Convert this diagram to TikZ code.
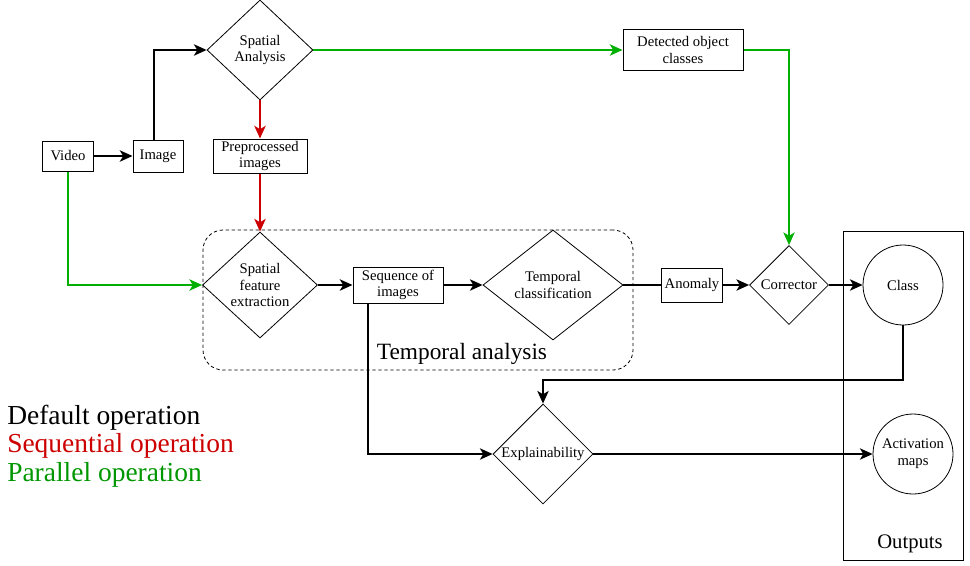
\documentclass[tikz,border=0pt]{standalone}
\usepackage{fontspec}
\setmainfont{Liberation Serif}
\usetikzlibrary{shapes.geometric,arrows.meta}
\definecolor{seqred}{RGB}{204,0,0}
\definecolor{pargreen}{RGB}{0,175,0}
\definecolor{legendgreen}{RGB}{0,150,0}

\begin{document}
\begin{tikzpicture}[x=0.75pt,y=-0.75pt]
	\tikzset{dims/.style 2 args={minimum width=#1*0.75pt,minimum height=#2*0.75pt}}
	\tikzset{box/.style={draw,line width=0.75pt,align=center,inner sep=0pt,font=\fontsize{11}{12.5}\selectfont}}
	\tikzset{decision/.style={box,diamond,line width=0.6pt}}
	\tikzset{circ/.style={box,circle,line width=0.6pt,minimum size=80*0.75pt}}
	\tikzset{flow/.style={line width=1.5pt,-{Stealth[length=9.5pt,width=8.5pt,inset=2.5pt]}}}
	\tikzset{link/.style={line width=1.5pt}}
	\tikzset{legend/.style={anchor=west,inner sep=0pt,font=\fontsize{20.6}{22}\selectfont}}
	\useasboundingbox (0,0) rectangle (970,565);
	% frames
	\node[draw,dash pattern=on 2.5pt off 2pt,line width=0.6pt,rounded corners=15pt,dims={430}{140}] (tframe) at (418,300) {};
	\node[font=\fontsize{17.5}{19}\selectfont] (tlabel) at (462,354) {Temporal analysis};
	\node[draw,line width=0.75pt,dims={120}{329}] (oframe) at (903,395.5) {};
	\node[font=\fontsize{15.5}{17}\selectfont] (olabel) at (910,544) {Outputs};
	% nodes
	\node[box,dims={51}{30}] (video) at (68,156) {Video};
	\node[box,dims={50}{32}] (image) at (158,156) {Image};
	\node[decision,dims={106}{100}] (spatial) at (260,50) {Spatial\\Analysis};
	\node[box,dims={94}{34}] (preproc) at (260,156) {Preprocessed\\images};
	\node[decision,dims={115}{106}] (sfe) at (260,285) {Spatial\\feature\\extraction};
	\node[box,dims={90}{36}] (seq) at (398,285) {Sequence of\\images};
	\node[decision,dims={140}{110}] (tclass) at (553,285) {Temporal\\classification};
	\node[box,dims={61}{34}] (anomaly) at (692,285) {Anomaly};
	\node[decision,dims={79}{79}] (corrector) at (789,285) {Corrector};
	\node[box,dims={120}{41}] (detected) at (683,50) {Detected object\\classes};
	\node[circ] (class) at (903,285) {Class};
	\node[decision,dims={100}{100}] (explain) at (543,454) {Explainability};
	\node[circ] (actmap) at (913,454) {Activation\\maps};
	\coordinate (bend) at (543,380);
	% connectors
	\draw[flow] (video) -- (image);
	\draw[flow] ([xshift=-3pt]image.north) |- (spatial.west);
	\draw[flow,seqred] (spatial) -- (preproc);
	\draw[flow,seqred] (preproc) -- (sfe);
	\draw[flow,pargreen] (video.south) |- (sfe.west);
	\draw[flow,pargreen] (spatial.east) -- (detected);
	\draw[flow,pargreen] (detected.east) -| (corrector.north);
	\draw[flow] (sfe) -- (seq);
	\draw[flow] (seq) -- (tclass);
	\draw[link] (tclass) -- (anomaly);
	\draw[flow] (anomaly) -- (corrector);
	\draw[flow] (corrector) -- (class);
	\draw[flow] (class.south) |- (bend) -- (explain.north);
	\draw[flow] ([xshift=-22.5pt]seq.south) |- (explain.west);
	\draw[flow] (explain) -- (actmap);
	% legend
	\node[legend] (ldefault) at (7,418) {Default operation};
	\node[legend,text=seqred] (lseq) at (7,446) {Sequential operation};
	\node[legend,text=legendgreen] (lpar) at (7,475) {Parallel operation};
\end{tikzpicture}
\end{document}
